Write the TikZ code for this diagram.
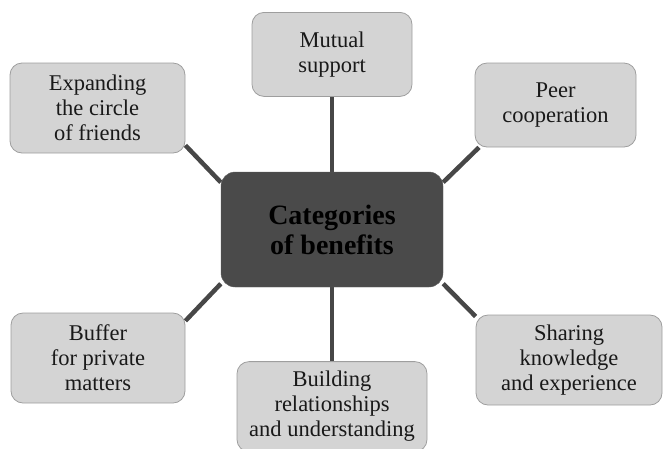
\documentclass[tikz,border=0pt]{standalone}
\usepackage{fontspec}
\setmainfont{Liberation Serif}
\usepackage{tikz}
\usetikzlibrary{positioning, backgrounds}

\begin{document}
\begin{tikzpicture}[
    x=1pt, y=-1pt,                    % <── pixel-like units, y downwards
    core_node/.style={rectangle, rounded corners=14pt, draw=black!62, fill=black!71,
        minimum width=222pt, minimum height=115pt, inner sep=0pt, align=center,
        font=\fontsize{28}{30}\selectfont\bfseries, text=black},
    benefit_node/.style={rectangle, rounded corners=12pt, draw=black!38, fill=black!17,
        line width=0.8pt, inner sep=0pt, align=center,
        font=\fontsize{22.5}{25}\selectfont, text=black!90},
    link/.style={line width=4.5pt, draw=black!72}
    ]
    \useasboundingbox (0,0) rectangle (663,448);

    % Nodes
    \node[core_node] (core) at (332,229.5) {Categories\\of benefits};
    \node[benefit_node, minimum width=160pt, minimum height=84pt] (mutual) [above=75pt of core] {Mutual\\support};
    \node[benefit_node, minimum width=190pt, minimum height=90pt] (building) [below=74pt of core] {Building\\relationships\\and understanding};
    \node[benefit_node, minimum width=175pt, minimum height=90pt] (friends) at (97.5,108) {Expanding\\the circle\\of friends};
    \node[benefit_node, minimum width=161pt, minimum height=84pt] (peer) at (555.5,105) {Peer\\cooperation};
    \node[benefit_node, minimum width=174pt, minimum height=90pt] (buffer) at (98,358) {Buffer\\for private\\matters};
    \node[benefit_node, minimum width=186pt, minimum height=90pt] (sharing) at (569,360) {Sharing\\knowledge\\and experience};

    % Links
    \begin{scope}[on background layer]
        \draw[link] (core) -- (mutual);
        \draw[link] (core) -- (building);
        \draw[link] (friends.-23) -- (core.157);
        \draw[link] (peer.209) -- (core.23);
        \draw[link] (buffer.23) -- (core.206);
        \draw[link] (sharing.155) -- (core.-26);
    \end{scope}
\end{tikzpicture}
\end{document}
